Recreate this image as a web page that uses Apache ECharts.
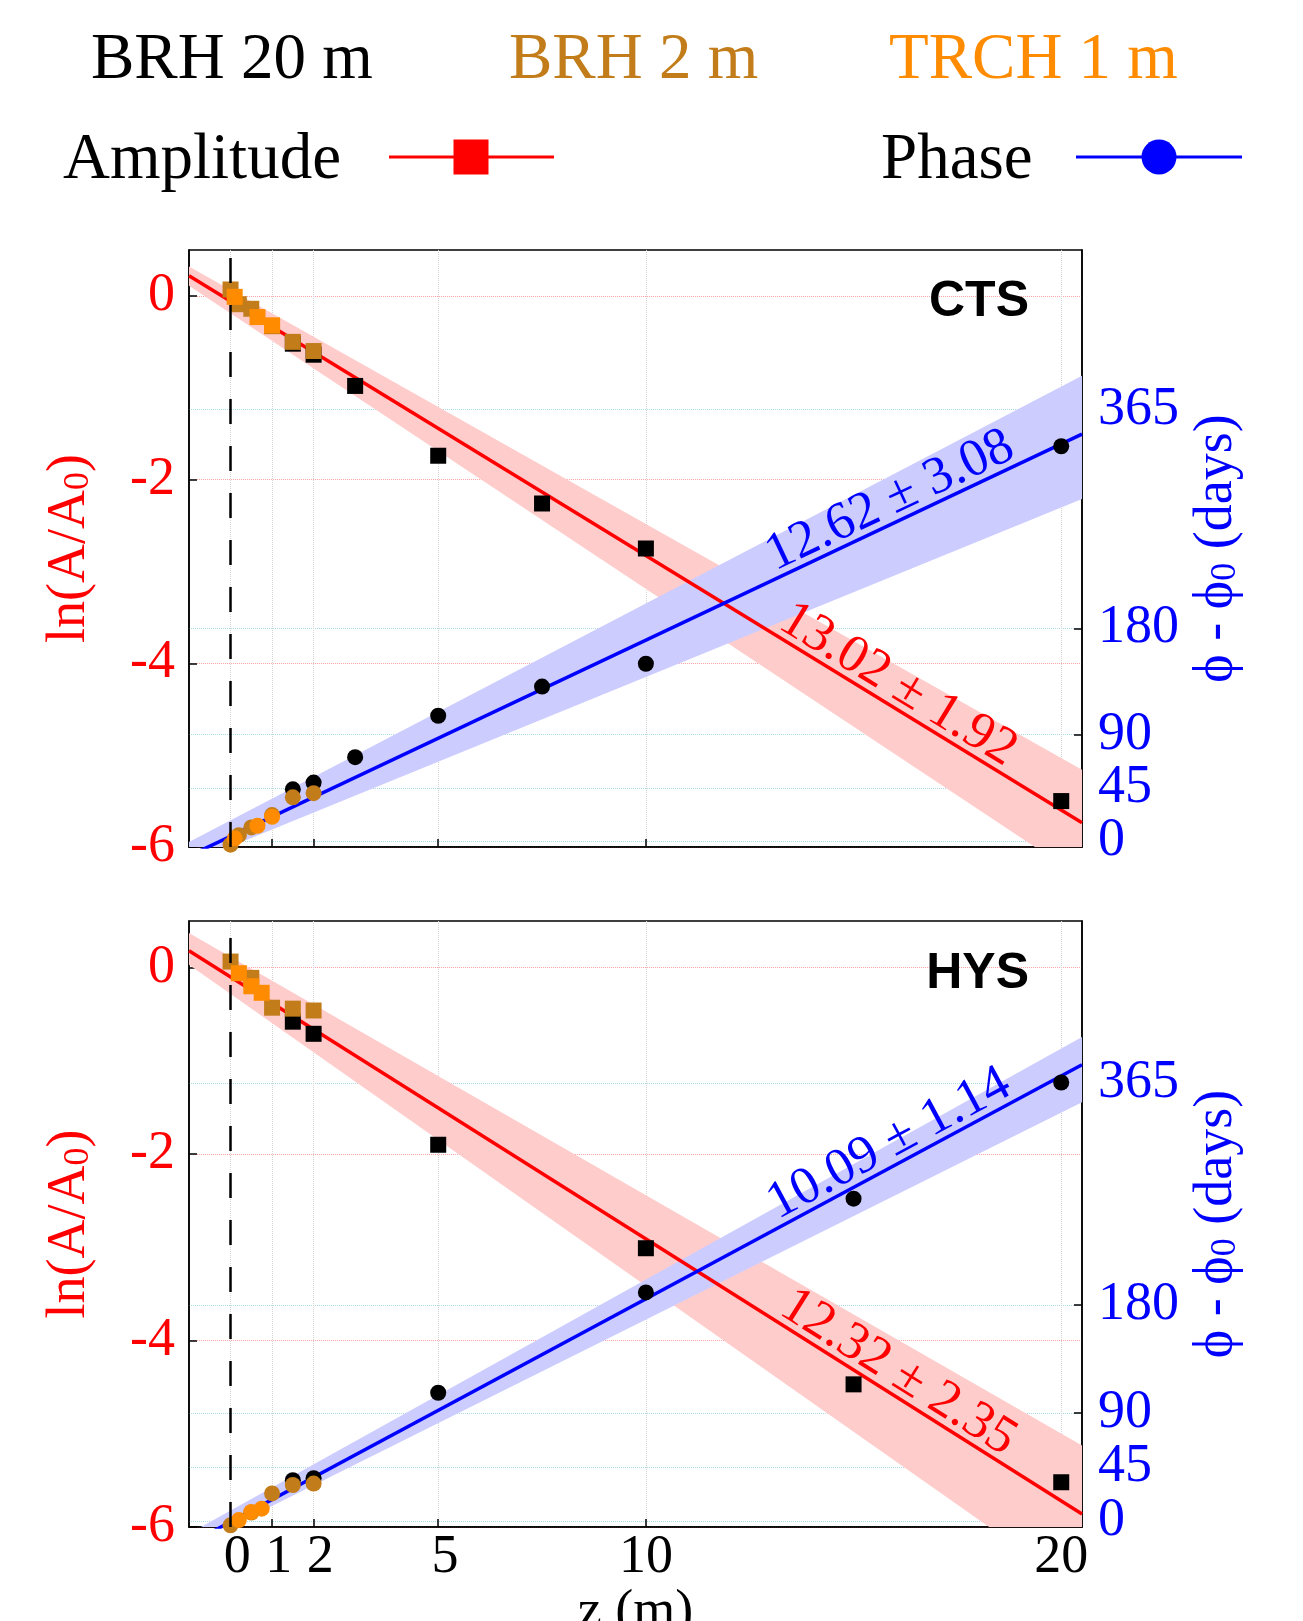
<!DOCTYPE html>
<html><head><meta charset="utf-8">
<script src="https://cdn.jsdelivr.net/npm/echarts@6/dist/echarts.min.js"></script>
<style>html,body{margin:0;padding:0;background:#fff}#c{width:1303px;height:1621px}</style>
</head><body><div id="c"></div>
<script>
// ---------- tick values ----------
const xTicks = [0, 1, 2, 5, 10, 20];
const lnTicks = [-6, -4, -2, 0];
const phaseTicks = [0, 45, 90, 180, 365];

// ---------- sensor legend ----------
const sensorNames = ['BRH 20 m', 'BRH 2 m', 'TRCH 1 m'];

// ---------- CTS (top panel) ----------
const ctsDepthBRH20 = [1.5, 2, 3, 5, 7.5, 10, 20];
const ctsAmpBRH20 = [-0.52, -0.64, -0.98, -1.74, -2.26, -2.75, -5.50];
const ctsPhaseBRH20 = [43.8, 49.5, 71, 106, 130.7, 150, 334];
const ctsDepthBRH2 = [0, 0.2, 0.5, 1.0, 1.5, 2];
const ctsAmpBRH2 = [0.07, -0.09, -0.14, -0.33, -0.50, -0.60];
const ctsPhaseBRH2 = [-3, 5, 11.6, 22, 37, 40.5];
const ctsDepthTRCH1 = [0.1, 0.65, 1.0];
const ctsAmpTRCH1 = [-0.01, -0.23, -0.32];
const ctsPhaseTRCH1 = [2.3, 13, 20.6];
const ctsAmpFit = [[-1, 0.219], [20.5, -5.737]];
const ctsAmpBandUpper = [[-1, 0.32], [20.5, -5.16]];
const ctsAmpBandLower = [[-1, 0.11], [20.5, -6.34]];
const ctsPhaseFit = [[-1, -12.6], [20.5, 344.3]];
const ctsPhaseBandUpper = [[-1, -0.85], [20.5, 393.7]];
const ctsPhaseBandLower = [[-1, -18.9], [20.5, 289.4]];
const ctsAmpLabel = '13.02 ± 1.92';
const ctsPhaseLabel = '12.62 ± 3.08';

// ---------- HYS (bottom panel) ----------
const hysDepthBRH20 = [1.5, 2, 5, 10, 15, 20];
const hysAmpBRH20 = [-0.58, -0.71, -1.90, -3.01, -4.47, -5.52];
const hysPhaseBRH20 = [34, 35.7, 106.9, 190.5, 268.6, 365.4];
const hysDepthBRH2 = [0, 0.5, 1.0, 1.5, 2];
const hysAmpBRH2 = [0.065, -0.11, -0.43, -0.44, -0.46];
const hysPhaseBRH2 = [-3.6, 7, 23, 30, 31.2];
const hysDepthTRCH1 = [0.2, 0.5, 0.75];
const hysAmpTRCH1 = [-0.06, -0.20, -0.27];
const hysPhaseTRCH1 = [0.8, 7.5, 10.3];
const hysAmpFit = [[-1, 0.181], [20.5, -5.86]];
const hysAmpBandUpper = [[-1, 0.37], [20.5, -5.125]];
const hysAmpBandLower = [[-1, 0.03], [20.5, -6.70]];
const hysPhaseFit = [[-1, -19.3], [20.5, 380.2]];
const hysPhaseBandUpper = [[-1, -10.55], [20.5, 403.3]];
const hysPhaseBandLower = [[-1, -21.95], [20.5, 348.9]];
const hysAmpLabel = '12.32 ± 2.35';
const hysPhaseLabel = '10.09 ± 1.14';

// ---------- styling ----------
const SERIF = '"Liberation Serif", "Times New Roman", serif';
const SANS = '"Liberation Sans", Arial, sans-serif';
const RED = '#ff0000', BLUE = '#0000ff', BLACK = '#000000', BROWN = '#C27D1A', ORANGE = '#FF8C00';
const sensorColors = [BLACK, BROWN, ORANGE];

const panels = [
  { name: 'CTS',
    depth: [ctsDepthBRH20, ctsDepthBRH2, ctsDepthTRCH1],
    amp: [ctsAmpBRH20, ctsAmpBRH2, ctsAmpTRCH1],
    phase: [ctsPhaseBRH20, ctsPhaseBRH2, ctsPhaseTRCH1],
    ampFit: ctsAmpFit, ampUp: ctsAmpBandUpper, ampLo: ctsAmpBandLower,
    phFit: ctsPhaseFit, phUp: ctsPhaseBandUpper, phLo: ctsPhaseBandLower,
    ampLabel: ctsAmpLabel, phLabel: ctsPhaseLabel },
  { name: 'HYS',
    depth: [hysDepthBRH20, hysDepthBRH2, hysDepthTRCH1],
    amp: [hysAmpBRH20, hysAmpBRH2, hysAmpTRCH1],
    phase: [hysPhaseBRH20, hysPhaseBRH2, hysPhaseTRCH1],
    ampFit: hysAmpFit, ampUp: hysAmpBandUpper, ampLo: hysAmpBandLower,
    phFit: hysPhaseFit, phUp: hysPhaseBandUpper, phLo: hysPhaseBandLower,
    ampLabel: hysAmpLabel, phLabel: hysPhaseLabel }
];

const gridBoxes = [
  { left: 189, top: 250, width: 893, height: 597 },
  { left: 189, top: 921, width: 893, height: 606 }
];

function richName(color) {
  return {
    fontFamily: SERIF, fontSize: 54, color: color,
    rich: {
      m: { fontFamily: SERIF, fontSize: 54, lineHeight: 54, color: color, verticalAlign: 'top' },
      sub: { fontFamily: SERIF, fontSize: 36, lineHeight: 36, color: color, verticalAlign: 'bottom', padding: [24, 0, 0, 0] }
    }
  };
}

function xAxisCfg(gi, showLabels) {
  return {
    type: 'value', gridIndex: gi, min: -1, max: 20.5,
    axisLine: { show: true, onZero: false, lineStyle: { color: '#000', width: 1.5 } },
    axisTick: { show: true, inside: true, length: 8, customValues: xTicks, lineStyle: { color: '#000', width: 1.5 } },
    axisLabel: { show: showLabels, customValues: xTicks, showMinLabel: true, showMaxLabel: true, hideOverlap: false,
      fontFamily: SERIF, fontSize: 54, color: '#000', margin: 4,
      formatter: v => (Math.abs(v) < 10 ? ' ' + v : '' + v) },
    splitLine: { show: true, lineStyle: { color: '#d4d4d4', type: 'dotted', width: 1 } },
    name: showLabels ? 'z (m)' : '', nameLocation: 'middle', nameGap: 56,
    nameTextStyle: { fontFamily: SERIF, fontSize: 54, color: '#000' }
  };
}
function lnAxisCfg(gi) {
  return {
    type: 'value', gridIndex: gi, position: 'left', min: -6, max: 0.5,
    axisLine: { show: true, onZero: false, lineStyle: { color: '#000', width: 1.5 } },
    axisTick: { show: true, inside: true, length: 8, customValues: lnTicks, lineStyle: { color: '#000', width: 1.5 } },
    axisLabel: { customValues: lnTicks, showMinLabel: true, showMaxLabel: true, hideOverlap: false,
      fontFamily: SERIF, fontSize: 54, color: RED, margin: 14 },
    splitLine: { show: true, lineStyle: { color: 'rgba(255,90,90,0.55)', type: 'dotted', width: 1 } },
    name: '{m|ln(A/A}{sub|0}{m|)}', nameLocation: 'middle', nameRotate: 90, nameGap: 92,
    nameTextStyle: richName(RED)
  };
}
function phaseAxisCfg(gi) {
  return {
    type: 'value', gridIndex: gi, position: 'right', min: -5, max: 500,
    axisLine: { show: true, onZero: false, lineStyle: { color: '#000', width: 1.5 } },
    axisTick: { show: true, inside: true, length: 8, customValues: phaseTicks, lineStyle: { color: '#000', width: 1.5 } },
    // tick labels of this axis are placed below as text at the axis' own pixel positions
    axisLabel: { show: false, customValues: phaseTicks },
    splitLine: { show: true, lineStyle: { color: '#a9dbe6', type: 'dotted', width: 1 } },
    name: '{m|ϕ - ϕ}{sub|0}{m| (days)}', nameLocation: 'middle', nameRotate: 90, nameGap: 108,
    nameTextStyle: richName(BLUE)
  };
}

// confidence band as a polygon between the lower and upper edge lines, placed through the axes (api.coord)
function bandSeries(gi, yi, lower, upper, color) {
  return {
    type: 'custom', xAxisIndex: gi, yAxisIndex: yi, silent: true, clip: true, z: 1,
    data: [[lower[0][0], lower[0][1]]],
    renderItem: function (params, api) {
      const pts = [lower[0], lower[1], upper[1], upper[0]].map(p => api.coord(p));
      return { type: 'polygon', shape: { points: pts }, style: { fill: color } };
    }
  };
}
function fitSeries(gi, yi, data, color) {
  return { type: 'line', xAxisIndex: gi, yAxisIndex: yi, data: data, symbol: 'none',
    lineStyle: { color: color, width: 3.5 }, silent: true, z: 3 };
}

const series = [];
panels.forEach((p, gi) => {
  const yl = gi * 2, yr = gi * 2 + 1;
  series.push(bandSeries(gi, yl, p.ampLo, p.ampUp, '#FFCCCC'));
  series.push(bandSeries(gi, yr, p.phLo, p.phUp, '#CCCCFF'));
  // zero-depth dashed reference line
  series.push({ type: 'line', xAxisIndex: gi, yAxisIndex: yl, data: [], symbol: 'none', silent: true, z: 2,
    markLine: { silent: true, symbol: ['none', 'none'], label: { show: false },
      lineStyle: { color: '#000', width: 2.5, type: [25, 22] },
      data: [{ xAxis: xTicks[0] }] } });
  series.push(fitSeries(gi, yl, p.ampFit, RED));
  series.push(fitSeries(gi, yr, p.phFit, BLUE));
  for (let k = 0; k < 3; k++) {
    series.push({ name: sensorNames[k] + ' amplitude', type: 'scatter', xAxisIndex: gi, yAxisIndex: yl,
      symbol: 'rect', symbolSize: 16, itemStyle: { color: sensorColors[k], opacity: 1 }, z: 4,
      data: p.depth[k].map((d, i) => [d, p.amp[k][i]]) });
    series.push({ name: sensorNames[k] + ' phase', type: 'scatter', xAxisIndex: gi, yAxisIndex: yr,
      symbol: 'circle', symbolSize: 16, itemStyle: { color: sensorColors[k], opacity: 1 }, z: 4,
      data: p.depth[k].map((d, i) => [d, p.phase[k][i]]) });
  }
});

const chart = echarts.init(document.getElementById('c'), null, { renderer: 'canvas', width: 1303, height: 1621 });
chart.setOption({
  animation: false,
  backgroundColor: '#ffffff',
  grid: gridBoxes.map(b => Object.assign({ show: true, borderColor: '#000', borderWidth: 1.5,
    backgroundColor: 'transparent', containLabel: false, outerBoundsMode: 'none' }, b)),
  xAxis: [xAxisCfg(0, false), xAxisCfg(1, true)],
  yAxis: [lnAxisCfg(0), phaseAxisCfg(0), lnAxisCfg(1), phaseAxisCfg(1)],
  series: series
});

// ---------- annotations (positioned via the axes' scales) ----------
function textEl(x, y, text, color, size, opts) {
  const o = opts || {};
  return { type: 'text', x: x, y: y, rotation: o.rotation || 0, z: 10, silent: true,
    style: { text: text, fill: color, fontSize: size, fontFamily: o.family || SERIF, fontWeight: o.weight || 'normal',
      textAlign: o.align || 'left', align: o.align || 'left',
      textVerticalAlign: o.valign || 'middle', verticalAlign: o.valign || 'middle' } };
}
function lineLabel(gi, yi, fit, xc, text, color, offset) {
  const p1 = chart.convertToPixel({ xAxisIndex: gi, yAxisIndex: yi }, fit[0]);
  const p2 = chart.convertToPixel({ xAxisIndex: gi, yAxisIndex: yi }, fit[1]);
  const dx = p2[0] - p1[0], dy = p2[1] - p1[1];
  const len = Math.hypot(dx, dy), ux = dx / len, uy = dy / len;
  const t = (xc - fit[0][0]) / (fit[1][0] - fit[0][0]);
  const px = p1[0] + t * dx, py = p1[1] + t * dy;
  const nx = uy, ny = -ux; // upward normal
  return textEl(px + nx * offset, py + ny * offset, text, color, 53,
    { align: 'center', valign: 'bottom', rotation: -Math.atan2(dy, dx) });
}

const graphics = [];
// sensor legend row
const sensorX = [91, 509, 889];
sensorNames.forEach((n, k) => graphics.push(textEl(sensorX[k], 61, n, sensorColors[k], 65)));
// quantity legend row
graphics.push(textEl(63, 161, 'Amplitude', BLACK, 65));
graphics.push({ type: 'line', silent: true, shape: { x1: 389, y1: 157, x2: 554, y2: 157 }, style: { stroke: RED, lineWidth: 3 } });
graphics.push({ type: 'rect', silent: true, shape: { x: 471 - 17.5, y: 157 - 17.5, width: 35, height: 35 }, style: { fill: RED } });
graphics.push(textEl(881, 161, 'Phase', BLACK, 65));
graphics.push({ type: 'line', silent: true, shape: { x1: 1076, y1: 157, x2: 1242, y2: 157 }, style: { stroke: BLUE, lineWidth: 3 } });
graphics.push({ type: 'circle', silent: true, shape: { cx: 1159, cy: 157, r: 17.5 }, style: { fill: BLUE } });
// panel names
graphics.push(textEl(1029, 302, panels[0].name, BLACK, 50, { family: SANS, weight: 'bold', align: 'right' }));
graphics.push(textEl(1029, 974, panels[1].name, BLACK, 50, { family: SANS, weight: 'bold', align: 'right' }));
// right-axis (phase) tick labels, placed at the axis' own positions
panels.forEach((p, gi) => {
  const g = gridBoxes[gi];
  phaseTicks.forEach(v => {
    const py = chart.convertToPixel({ yAxisIndex: gi * 2 + 1 }, v);
    graphics.push(textEl(g.left + g.width + 16, py, String(v), BLUE, 54));
  });
});
// fit labels
panels.forEach((p, gi) => {
  graphics.push(lineLabel(gi, gi * 2, p.ampFit, 15.8, p.ampLabel, RED, -5));
  graphics.push(lineLabel(gi, gi * 2 + 1, p.phFit, 16.1, p.phLabel, BLUE, -5));
});
chart.setOption({ graphic: graphics });
</script>
</body></html>
